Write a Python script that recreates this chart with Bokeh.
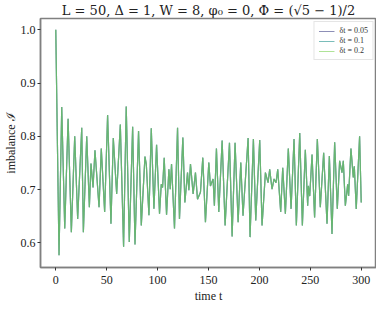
from bokeh.plotting import figure
from bokeh.embed import file_html
from bokeh.resources import INLINE
from bokeh.models import Range1d, FixedTicker, Legend, LegendItem, NumeralTickFormatter

# time samples (extrema)
time = [0, 3.2, 5.85, 8.8, 12.1, 15.3, 18.6, 21.5, 25.5, 27.1, 30.4, 33.0, 34.6, 36.6, 38.5,
        42.5, 44.7, 48.0, 50.9, 54.2, 56.5, 59.8, 63.4, 66.6, 69.2, 72.2, 75.5, 77.8, 81.3,
        84.0, 87.6, 88.9, 91.5, 93.8, 96.4, 99.0, 101.9, 103.6, 104.9, 106.5, 108.8, 111.1,
        112.4, 113.7, 116.6, 119.6, 121.5, 124.8, 126.8, 129.4, 130.7, 132.3, 134.9, 137.2,
        139.2, 142.1, 144.4, 147.0, 150.3, 151.9, 154.5, 155.8, 157.8, 160.1, 163.4, 166.3,
        170.6, 173.2, 176.1, 179.1, 181.7, 183.9, 188.9, 190.8, 194.1, 196.4, 200.3, 202.6,
        205.9, 208.5, 210.1, 212.4, 214.4, 216.3, 218.0, 220.9, 222.9, 225.5, 228.4, 231.1,
        234.0, 236.3, 239.6, 242.2, 245.1, 247.4, 248.1, 249.4, 251.7, 254.2, 256.9, 259.8,
        263.1, 266.4, 268.7, 271.3, 273.9, 276.5, 278.8, 281.1, 282.4, 284.4, 286.7, 287.6,
        289.9, 292.2, 293.2, 295.1, 298.4, 300.0]
imbalance = [1.0, 0.577, 0.855, 0.627, 0.833, 0.620, 0.800, 0.645, 0.816, 0.620, 0.800, 0.667,
             0.749, 0.704, 0.774, 0.667, 0.777, 0.658, 0.840, 0.636, 0.797, 0.692, 0.822, 0.593,
             0.856, 0.602, 0.818, 0.597, 0.810, 0.633, 0.762, 0.748, 0.652, 0.815, 0.664, 0.784,
             0.655, 0.710, 0.704, 0.760, 0.653, 0.738, 0.701, 0.748, 0.627, 0.816, 0.645, 0.798,
             0.676, 0.732, 0.699, 0.748, 0.692, 0.732, 0.682, 0.695, 0.760, 0.639, 0.751, 0.707,
             0.720, 0.670, 0.777, 0.658, 0.792, 0.633, 0.788, 0.612, 0.788, 0.639, 0.751, 0.651,
             0.797, 0.611, 0.795, 0.642, 0.793, 0.633, 0.732, 0.713, 0.738, 0.701, 0.720, 0.713,
             0.738, 0.658, 0.741, 0.655, 0.777, 0.664, 0.795, 0.633, 0.806, 0.633, 0.775, 0.670,
             0.707, 0.688, 0.766, 0.648, 0.795, 0.667, 0.769, 0.636, 0.763, 0.617, 0.789, 0.664,
             0.754, 0.732, 0.754, 0.670, 0.710, 0.688, 0.777, 0.723, 0.744, 0.664, 0.800, 0.676]

imbalance_dt005 = imbalance
imbalance_dt01 = imbalance
imbalance_dt02 = imbalance

series_labels = ["δt = 0.05", "δt = 0.1", "δt = 0.2"]
series_colors = ["#414487", "#21918c", "#7ad151"]
x_ticks = [0, 50, 100, 150, 200, 250, 300]
y_ticks = [0.6, 0.7, 0.8, 0.9, 1.0]

FONT = "Liberation Serif"

p = figure(frame_width=336, frame_height=249, output_backend="svg", toolbar_location=None,
           x_range=Range1d(-15, 315), y_range=Range1d(0.554, 1.021),
           min_border_left=0, min_border_right=0, min_border_top=0, min_border_bottom=0)

p.title.text = "L = 50, Δ = 1, W = 8, φ₀ = 0, Φ = (√5 − 1)/2"
p.title.text_font = "DejaVu Serif"
p.title.text_font_size = "13px"
p.title.text_font_style = "normal"
p.title.align = "center"
p.title.text_color = "#222222"
p.title.standoff = 1
p.title.offset = 0

renderers = []
for ys, c in zip([imbalance_dt005, imbalance_dt01, imbalance_dt02], series_colors):
    r = p.line(time, ys, line_color=c, line_width=1.2, line_alpha=0.6)
    renderers.append(r)

legend = Legend(items=[LegendItem(label=l, renderers=[r]) for l, r in zip(series_labels, renderers)],
                location="top_right")
legend.label_text_font = FONT
legend.label_text_font_size = "8px"
legend.label_text_color = "#333333"
legend.label_height = 8
legend.glyph_height = 8
legend.glyph_width = 16
legend.spacing = 1
legend.padding = 4
legend.margin = 3
legend.border_line_color = "#cccccc"
legend.background_fill_alpha = 0.9
p.add_layout(legend)

for ax in (p.xaxis, p.yaxis):
    ax.major_label_text_font = FONT
    ax.major_label_text_font_size = "12px"
    ax.axis_label_text_font = FONT
    ax.axis_label_text_font_size = "12px"
    ax.axis_label_text_font_style = "normal"
    ax.minor_tick_line_color = None
    ax.major_tick_in = 0
    ax.major_tick_out = 3
    ax.axis_line_color = "#808080"
    ax.major_tick_line_color = "#333333"
    ax.major_label_text_color = "#222222"
    ax.axis_label_text_color = "#222222"

p.xaxis.ticker = FixedTicker(ticks=x_ticks)
p.yaxis.ticker = FixedTicker(ticks=y_ticks)
p.yaxis.formatter = NumeralTickFormatter(format="0.0")
p.xaxis.axis_label = "time t"
p.yaxis.axis_label = "imbalance ℐ"
p.xaxis.axis_label_standoff = 2
p.yaxis.axis_label_standoff = 0
p.xaxis.major_label_standoff = 5
p.yaxis.major_label_standoff = 2

p.xgrid.visible = False
p.ygrid.visible = False
p.outline_line_color = "#808080"
p.outline_line_width = 1.5
p.axis.axis_line_width = 1.5

open("out.html", "w").write(file_html(p, INLINE))
